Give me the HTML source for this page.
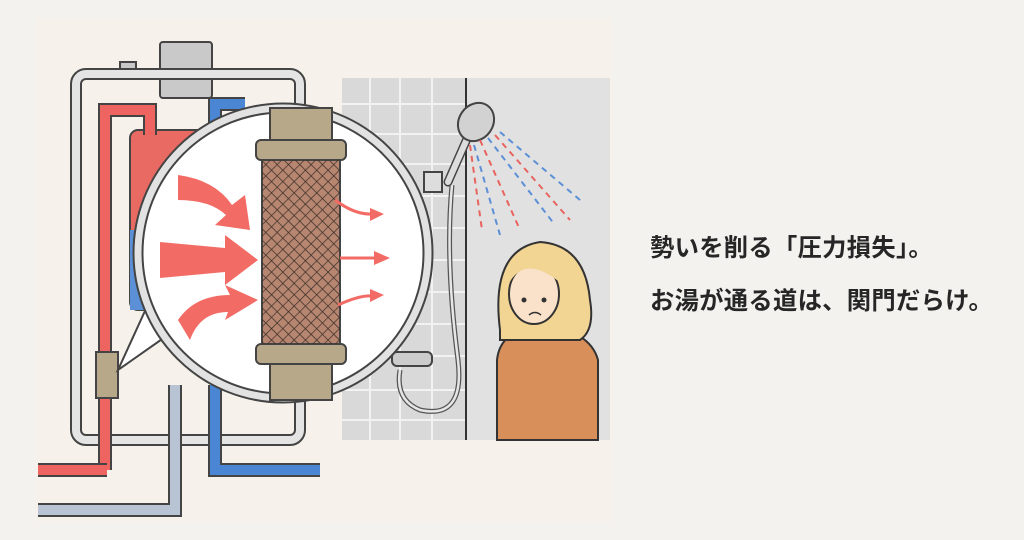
<!DOCTYPE html>
<html><head><meta charset="utf-8"><style>
html,body{margin:0;padding:0;width:1024px;height:540px;overflow:hidden;background:#f3f2ef;}
.t{position:absolute;left:650px;font-family:"Liberation Sans","Noto Sans CJK JP",sans-serif;font-size:24.3px;font-weight:bold;color:#262626;white-space:nowrap;letter-spacing:0.3px}
</style></head><body>
<svg width="1024" height="540" style="position:absolute;left:0;top:0" xmlns="http://www.w3.org/2000/svg">
<rect x="36" y="18" width="576" height="504" fill="#f6f2eb"/>
<rect x="342" y="78" width="124" height="362" fill="#d9d9d9"/>
<g stroke="#f2f2f2" stroke-width="2">
<line x1="370" y1="78" x2="370" y2="440"/><line x1="400" y1="78" x2="400" y2="440"/><line x1="432" y1="78" x2="432" y2="440"/>
<line x1="342" y1="104" x2="466" y2="104"/><line x1="342" y1="134" x2="466" y2="134"/><line x1="342" y1="164" x2="466" y2="164"/><line x1="342" y1="196" x2="466" y2="196"/><line x1="342" y1="228" x2="466" y2="228"/><line x1="342" y1="260" x2="466" y2="260"/><line x1="342" y1="292" x2="466" y2="292"/><line x1="342" y1="324" x2="466" y2="324"/><line x1="342" y1="356" x2="466" y2="356"/><line x1="342" y1="390" x2="466" y2="390"/><line x1="342" y1="420" x2="466" y2="420"/>
</g>
<rect x="466" y="78" width="144" height="362" fill="#e1e1e1"/>
<line x1="466" y1="78" x2="466" y2="440" stroke="#333" stroke-width="2"/>
<rect x="160" y="42" width="52" height="56" rx="3" fill="#c9c9c9" stroke="#444" stroke-width="2"/>
<rect x="120" y="62" width="16" height="14" fill="#c9c9c9" stroke="#444" stroke-width="2"/>
<rect x="76" y="74" width="224" height="366" rx="10" fill="none" stroke="#444" stroke-width="12"/>
<rect x="76" y="74" width="224" height="366" rx="10" fill="none" stroke="#e4e4e4" stroke-width="8"/>
<rect x="130" y="130" width="80" height="180" rx="8" fill="#e86a62" stroke="#444" stroke-width="2"/>
<rect x="130" y="230" width="40" height="80" fill="#5b8fd6"/>
<path d="M105 470 V110 H150 V135" fill="none" stroke="#444" stroke-width="14"/>
<path d="M105 470 V110 H150 V135" fill="none" stroke="#ee6460" stroke-width="10"/>
<path d="M107 470 H38" fill="none" stroke="#444" stroke-width="14"/>
<path d="M107 470 H38" fill="none" stroke="#ee6460" stroke-width="10"/>
<path d="M215 135 V104 H245" fill="none" stroke="#444" stroke-width="14"/>
<path d="M215 135 V104 H245" fill="none" stroke="#4a86d4" stroke-width="10"/>
<path d="M215 385 V470 H320" fill="none" stroke="#444" stroke-width="14"/>
<path d="M215 385 V470 H320" fill="none" stroke="#4a86d4" stroke-width="10"/>
<path d="M175 385 V510 H38" fill="none" stroke="#444" stroke-width="14"/>
<path d="M175 385 V510 H38" fill="none" stroke="#b8c4d4" stroke-width="10"/>
<rect x="96" y="352" width="22" height="46" fill="#b8a88a" stroke="#444" stroke-width="2"/>
<path d="M452 185 Q445 260 458 360 Q465 420 420 410 Q395 400 400 370" fill="none" stroke="#555" stroke-width="5"/>
<path d="M452 185 Q445 260 458 360 Q465 420 420 410 Q395 400 400 370" fill="none" stroke="#e6e6e6" stroke-width="2.5"/>
<rect x="392" y="352" width="40" height="14" rx="5" fill="#ccc" stroke="#444" stroke-width="2"/>
<rect x="424" y="172" width="18" height="20" fill="#ddd" stroke="#444" stroke-width="2"/>
<path d="M448 182 L470 132" stroke="#444" stroke-width="9" stroke-linecap="round"/>
<path d="M448 182 L470 132" stroke="#ddd" stroke-width="6" stroke-linecap="round"/>
<ellipse cx="476" cy="122" rx="17" ry="20" transform="rotate(35 476 122)" fill="#d2d2d2" stroke="#444" stroke-width="2"/>
<g stroke-width="2" stroke-dasharray="6 5" fill="none">
<path d="M480 140 L520 230" stroke="#e8635e"/><path d="M488 138 L555 225" stroke="#5b8fd6"/><path d="M495 135 L570 220" stroke="#e8635e"/><path d="M474 145 L500 235" stroke="#5b8fd6"/><path d="M470 145 L482 230" stroke="#e8635e"/><path d="M500 132 L580 200" stroke="#5b8fd6"/>
</g>
<path d="M497 440 V360 Q500 330 540 325 Q590 330 598 360 V440 Z" fill="#d98f5a" stroke="#333" stroke-width="2"/>
<path d="M500 330 Q490 250 540 242 Q585 245 590 300 Q595 330 580 340 L500 340 Z" fill="#f2d493" stroke="#333" stroke-width="2"/>
<ellipse cx="534" cy="294" rx="25" ry="30" fill="#f9e2c9" stroke="#333" stroke-width="2"/>
<path d="M508 285 Q525 252 563 285 L563 262 Q540 240 510 262 Z" fill="#f2d493"/>
<circle cx="524" cy="300" r="2.5" fill="#333"/><circle cx="544" cy="300" r="2.5" fill="#333"/>
<path d="M529 315 Q535 310 541 315" fill="none" stroke="#333" stroke-width="1.5"/>
<path d="M150 300 L118 370 L175 330 Z" fill="#fff" stroke="#444" stroke-width="2"/>
<circle cx="283" cy="253" r="145" fill="#fff" stroke="#444" stroke-width="11"/>
<circle cx="283" cy="253" r="145" fill="none" stroke="#e2e2e2" stroke-width="7"/>
<rect x="270" y="108" width="62" height="42" fill="#b8a88a" stroke="#444" stroke-width="2"/>
<rect x="270" y="360" width="62" height="40" fill="#b8a88a" stroke="#444" stroke-width="2"/>
<rect x="256" y="140" width="90" height="20" rx="5" fill="#b8a88a" stroke="#444" stroke-width="2"/>
<rect x="256" y="344" width="90" height="20" rx="5" fill="#b8a88a" stroke="#444" stroke-width="2"/>
<rect x="262" y="160" width="78" height="184" fill="#b78670" stroke="#444" stroke-width="2"/>
<defs><pattern id="m" width="8" height="8" patternUnits="userSpaceOnUse" patternTransform="rotate(45)"><path d="M0 0H8M0 0V8" stroke="#3a2e28" stroke-width="1.4"/></pattern></defs>
<rect x="262" y="160" width="78" height="184" fill="url(#m)"/>
<g fill="#f26b64">
<path d="M178 175 Q215 180 232 205 L245 195 L250 230 L215 225 L226 215 Q210 200 178 200 Z"/>
<path d="M160 242 L225 248 L225 235 L258 260 L225 285 L225 272 L160 278 Z"/>
<path d="M178 320 Q195 295 230 295 L225 285 L258 300 L225 320 L228 312 Q200 312 190 340 Z"/>
</g>
<g stroke="#f26b64" stroke-width="3" fill="none"><path d="M335 200 Q355 215 372 214"/><path d="M340 258 H375"/><path d="M338 305 Q360 295 372 296"/></g>
<g fill="#f26b64"><path d="M370 208 L384 214 L370 221 Z"/><path d="M374 251 L390 258 L374 265 Z"/><path d="M370 289 L384 295 L370 302 Z"/></g>
</svg>
<div class="t" style="top:228px">勢いを削る「圧力損失」。</div>
<div class="t" style="top:281px">お湯が通る道は、関門だらけ。</div>
</body></html>
